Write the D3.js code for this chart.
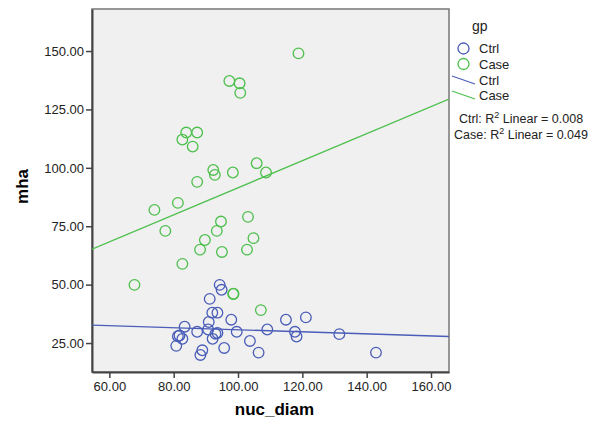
<!DOCTYPE html>
<html lang="en">
<head>
<meta charset="UTF-8">
<title>mha vs nuc_diam</title>
<style>
  body { margin: 0; background: #fff; }
  text { font-family: "Liberation Sans", Arial, sans-serif; }
</style>
</head>
<body>
<div id="chart"></div>
<script src="https://d3js.org/d3.v7.min.js"></script>
<script>
// data (nuc_diam, mha)
const ctrlX = [94.3, 94.9, 91.2, 92.0, 93.6, 97.9, 90.9, 83.4, 87.3, 90.7, 93.0, 93.6, 92.1, 99.6,
  81.3, 82.7, 81.8, 80.8, 88.9, 88.3, 95.7, 103.7, 106.4, 109.1, 114.9, 117.7, 118.2, 121.1, 131.5, 142.9];
const ctrlY = [49.9, 47.8, 43.9, 38.0, 38.0, 35.0, 34.0, 32.0, 29.8, 30.8, 29.0, 29.3, 26.8, 29.8,
  27.9, 26.8, 28.2, 23.8, 21.9, 19.9, 22.9, 25.9, 20.9, 30.8, 35.0, 29.8, 27.8, 36.0, 28.8, 20.9];

const caseX = [118.8, 97.3, 100.5, 100.7, 83.9, 87.3, 82.7, 85.9, 92.3, 92.8, 98.4, 105.8, 108.7, 87.3,
  74.0, 81.3, 77.4, 94.7, 93.4, 103.1, 89.7, 104.8, 88.2, 95.0, 102.8, 82.7, 67.8, 98.5, 98.6, 107.1];
const caseY = [149.0, 137.2, 136.2, 132.1, 115.1, 115.1, 112.1, 109.1, 99.1, 97.0, 98.0, 102.0, 98.0, 94.0,
  82.0, 85.0, 73.0, 77.0, 73.0, 79.0, 69.1, 69.9, 65.0, 64.0, 65.0, 58.9, 49.9, 46.0, 46.1, 39.1];

// fit lines: [x, y] at the axis ends
const ctrlFit = [[54.6, 32.7], [165.6, 27.8]];
const caseFit = [[54.6, 65.2], [165.6, 129.4]];

const groups = ["Ctrl", "Case"];
const r2Labels = ["Ctrl: R", "Case: R"];
const r2Values = ["0.008", "0.049"];
const xTicks = [60, 80, 100, 120, 140, 160];
const yTicks = [25, 50, 75, 100, 125, 150];

const colors = { Ctrl: "#4a5db8", Case: "#4cbf4c" };

const W = 600, H = 428;
const plot = { left: 92, top: 9, right: 449, bottom: 372 };

const svg = d3.select("#chart").append("svg")
  .attr("width", W).attr("height", H);

const x = d3.scaleLinear().domain([54.6, 165.6]).range([plot.left, plot.right]);
const y = d3.scaleLinear().domain([12.6, 168.0]).range([plot.bottom, plot.top]);

// plot background + frame
svg.append("rect")
  .attr("x", plot.left).attr("y", plot.top)
  .attr("width", plot.right - plot.left).attr("height", plot.bottom - plot.top)
  .attr("fill", "#f0f0f0").attr("stroke", "#777").attr("stroke-width", 1.5);

// axes
const xAxis = svg.append("g")
  .attr("transform", `translate(0,${plot.bottom})`)
  .call(d3.axisBottom(x).tickValues(xTicks).tickFormat(d3.format(".2f")).tickSizeInner(6).tickSizeOuter(0).tickPadding(4));
const yAxis = svg.append("g")
  .attr("transform", `translate(${plot.left},0)`)
  .call(d3.axisLeft(y).tickValues(yTicks).tickFormat(d3.format(".2f")).tickSizeInner(6).tickSizeOuter(0).tickPadding(2));

[xAxis, yAxis].forEach(a => {
  a.select(".domain").attr("stroke", "#444").attr("stroke-width", 2);
  a.selectAll(".tick line").attr("stroke", "#444").attr("stroke-width", 1.5);
  a.selectAll(".tick text").attr("fill", "#222")
    .style("font-family", "'Liberation Sans', Arial, sans-serif").style("font-size", "13px");
});

// axis titles
svg.append("text")
  .attr("x", (plot.left + plot.right) / 2 + 4).attr("y", 415)
  .attr("text-anchor", "middle")
  .style("font-size", "17px").style("font-weight", "bold")
  .text("nuc_diam");
svg.append("text")
  .attr("transform", `translate(28,${(plot.top + plot.bottom) / 2 - 4}) rotate(-90)`)
  .attr("text-anchor", "middle")
  .style("font-size", "17px").style("font-weight", "bold")
  .text("mha");

// fit lines
const clip = svg.append("clipPath").attr("id", "clip").append("rect")
  .attr("x", plot.left).attr("y", plot.top)
  .attr("width", plot.right - plot.left).attr("height", plot.bottom - plot.top);
const line = d3.line().x(d => x(d[0])).y(d => y(d[1]));
[[ctrlFit, "Ctrl"], [caseFit, "Case"]].forEach(([pts, g]) => {
  svg.append("path").datum(pts)
    .attr("d", line)
    .attr("clip-path", "url(#clip)")
    .attr("fill", "none").attr("stroke", colors[g]).attr("stroke-width", 1.3);
});

// points
const ctrlPts = ctrlX.map((v, i) => [v, ctrlY[i]]);
const casePts = caseX.map((v, i) => [v, caseY[i]]);
[[ctrlPts, "Ctrl"], [casePts, "Case"]].forEach(([pts, g]) => {
  svg.append("g").selectAll("circle")
    .data(pts).join("circle")
    .attr("cx", d => x(d[0])).attr("cy", d => y(d[1]))
    .attr("r", 5.3)
    .attr("fill", "none").attr("stroke", colors[g]).attr("stroke-width", 1.3);
});

// legend
const lg = svg.append("g");
lg.append("text").attr("x", 472).attr("y", 31).style("font-size", "14px").attr("fill", "#222").text("gp");
groups.forEach((g, i) => {
  const cy = 48.5 + i * 15.5;
  lg.append("circle").attr("cx", 463.5).attr("cy", cy).attr("r", 5.5)
    .attr("fill", "none").attr("stroke", colors[g]).attr("stroke-width", 1.3);
  lg.append("text").attr("x", 479).attr("y", cy + 4.5)
    .style("font-size", "13px").attr("fill", "#222").text(g);
});
groups.forEach((g, i) => {
  const y0 = 76 + i * 15;
  lg.append("line").attr("x1", 452).attr("y1", y0).attr("x2", 475).attr("y2", y0 + 8)
    .attr("stroke", colors[g]).attr("stroke-width", 1.2);
  lg.append("text").attr("x", 479).attr("y", y0 + 8.5)
    .style("font-size", "13px").attr("fill", "#222").text(g);
});
r2Labels.forEach((lab, i) => {
  const t = lg.append("text").attr("x", 521).attr("y", 123 + i * 15.5)
    .attr("text-anchor", "middle").style("font-size", "12.5px").attr("fill", "#222");
  t.append("tspan").text(lab);
  t.append("tspan").attr("dy", -5).style("font-size", "9px").text("2");
  t.append("tspan").attr("dy", 5).text(" Linear = " + r2Values[i]);
});
</script>
</body>
</html>
